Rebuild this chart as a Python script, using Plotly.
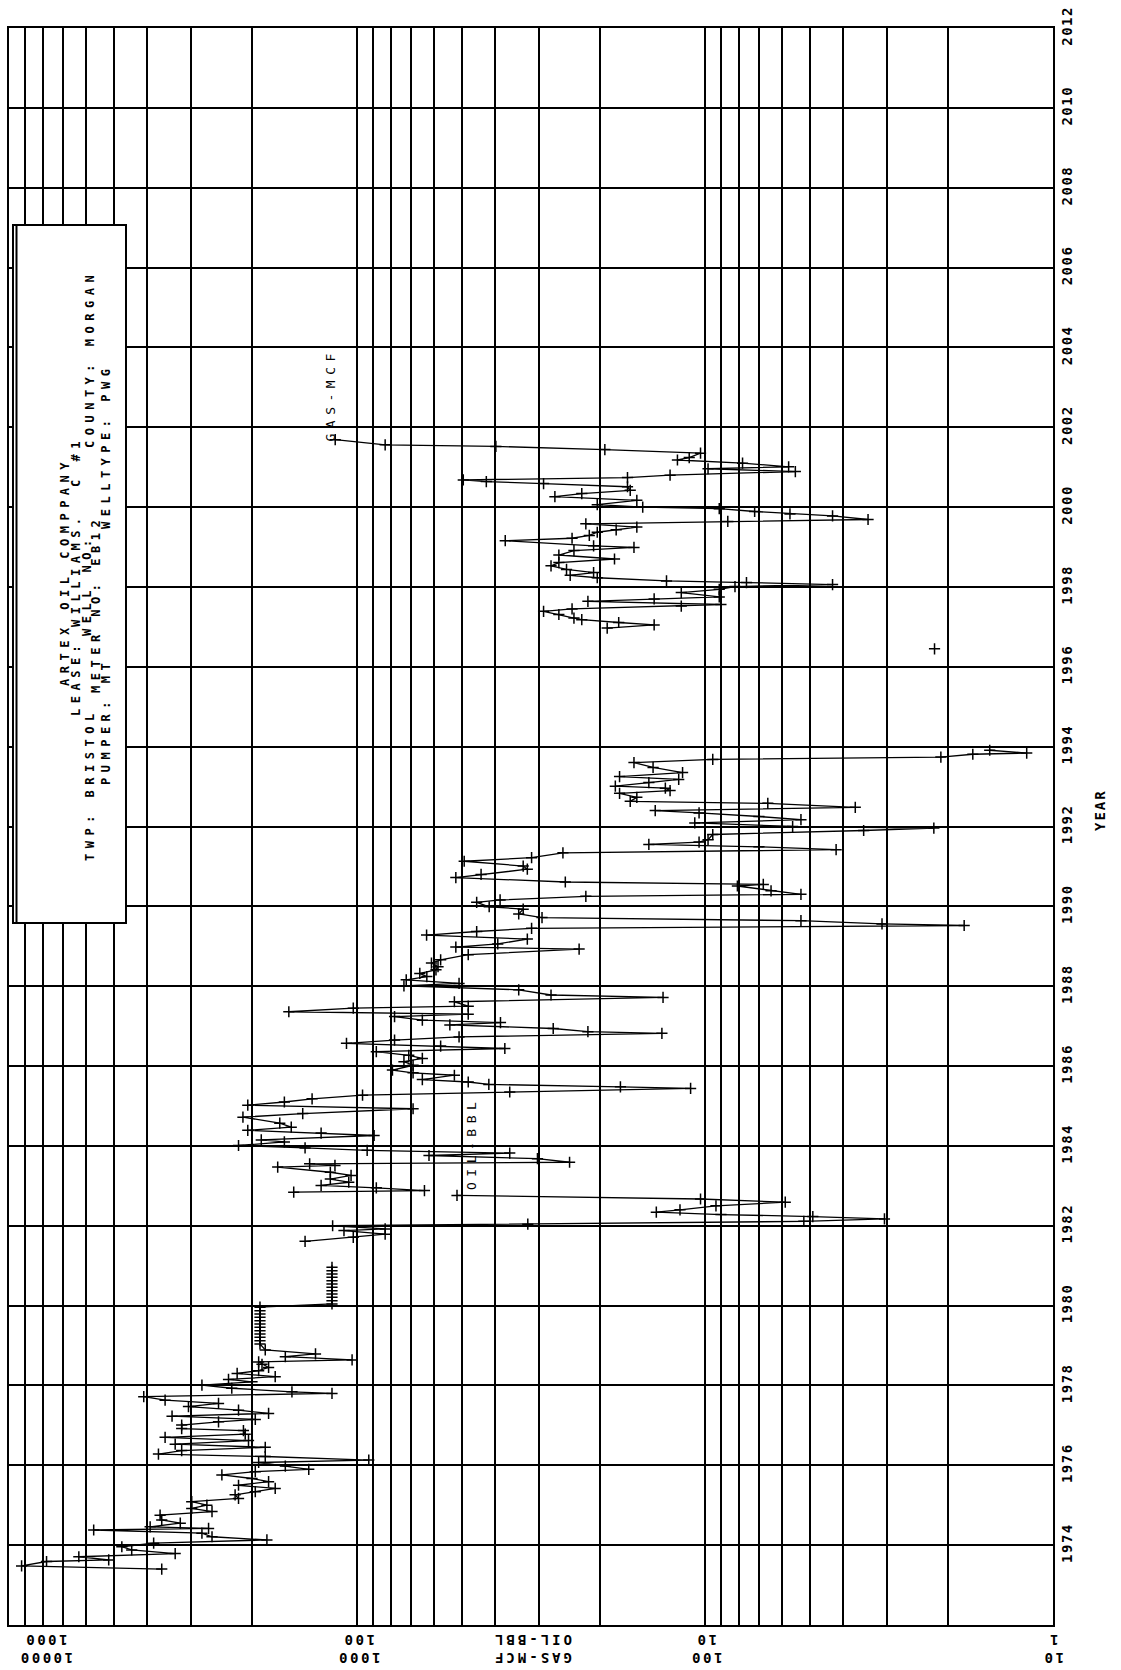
import plotly.graph_objects as go

# ---------------- data ----------------
oil_years = [1973.40, 1973.48, 1973.59, 1973.63, 1973.71, 1973.79, 1973.88, 1973.96,
             1974.05, 1974.13, 1974.21, 1974.30, 1974.38, 1974.42, 1974.46, 1974.55, 1974.63, 1974.75, 1974.84, 1974.92,
             1975.00, 1975.09, 1975.17, 1975.26, 1975.34, 1975.42, 1975.50, 1975.59, 1975.67, 1975.76, 1975.84, 1975.90, 1975.98,
             1976.07, 1976.13, 1976.22, 1976.28, 1976.37, 1976.45, 1976.53, 1976.62, 1976.70, 1976.78, 1976.87, 1976.92,
             1977.01, 1977.09, 1977.15, 1977.23, 1977.30, 1977.38, 1977.47, 1977.55, 1977.63, 1977.72, 1977.80, 1977.84, 1977.93,
             1978.01, 1978.09, 1978.15, 1978.22, 1978.30, 1978.37, 1978.45, 1978.53, 1978.59, 1978.64, 1978.72, 1978.79, 1978.89,
             1979.04, 1979.12, 1979.21, 1979.29, 1979.37, 1979.46, 1979.54, 1979.62, 1979.71, 1979.79, 1979.87, 1979.96,
             1980.04, 1980.12, 1980.21, 1980.29, 1980.37, 1980.46, 1980.54, 1980.62, 1980.71, 1980.79, 1980.87, 1980.96,
             1981.30,
             1981.61, 1981.71, 1981.79, 1981.88, 1981.92, 1982.00, 1982.04, 1982.11, 1982.17, 1982.23, 1982.28,
             1982.34, 1982.40, 1982.50, 1982.59, 1982.67, 1982.76]
oil_bbl = [3640, 9200, 7800, 5170, 6300, 3330, 4440, 4740,
           3840, 1815, 2610, 2790, 5710, 2670, 3930, 3220, 3640, 3680, 2610, 2985,
           2700, 2985, 2190, 2240, 1960, 1718, 2190, 1795, 2003, 2445, 1960, 1376, 1607,
           1917, 925, 1835, 3720, 3190, 1835, 3330, 2050, 3560, 2095, 2120, 3190,
           3190, 2500, 1960, 3400, 1795, 2190, 3050, 2500, 3560, 4100, 1180, 1538, 2290,
           2790, 2003, 2340, 1718, 2210, 1917, 1795, 1875, 1917, 1033, 1607, 1316, 1835,
           1900, 1900, 1900, 1900, 1900, 1900, 1900, 1900, 1900, 1900, 1900, 1900,
           1180, 1180, 1180, 1180, 1180, 1180, 1180, 1180, 1180, 1180, 1180, 1180,
           None,
           1410, 1025, 830, 1090, 830, 1175, 323, 52, 30.5, 49, 90,
           138, 118, 93, 58.8, 103, 516]

gas_years = [1982.84, 1982.88, 1982.95, 1983.01, 1983.09, 1983.17, 1983.26, 1983.34, 1983.47, 1983.51, 1983.55,
             1983.59, 1983.68, 1983.76, 1983.82, 1983.89, 1983.95,
             1984.01, 1984.10, 1984.15, 1984.26, 1984.32, 1984.39, 1984.47, 1984.57, 1984.72, 1984.81, 1984.93,
             1985.02, 1985.10, 1985.18, 1985.27, 1985.35, 1985.44, 1985.48, 1985.54, 1985.60, 1985.66, 1985.77, 1985.83, 1985.90,
             1986.02, 1986.11, 1986.19, 1986.27, 1986.36, 1986.44, 1986.50, 1986.57, 1986.65, 1986.73, 1986.82, 1986.86, 1986.94,
             1987.03, 1987.09, 1987.15, 1987.24, 1987.30, 1987.36, 1987.45, 1987.50, 1987.61, 1987.72, 1987.78, 1987.91,
             1988.01, 1988.07, 1988.16, 1988.24, 1988.32, 1988.41, 1988.49, 1988.58, 1988.66, 1988.79, 1988.93, 1988.98,
             1989.06, 1989.18, 1989.28, 1989.37, 1989.45, 1989.52, 1989.56, 1989.64, 1989.72, 1989.81, 1989.93, 1989.99,
             1990.10, 1990.16, 1990.25, 1990.30, 1990.39, 1990.51, 1990.55, 1990.61, 1990.72, 1990.80, 1990.93,
             1991.01, 1991.13, 1991.22, 1991.34, 1991.42, 1991.49, 1991.55, 1991.61, 1991.67, 1991.80, 1991.90, 1991.96,
             1992.00, 1992.09, 1992.17, 1992.25, 1992.34, 1992.40, 1992.48, 1992.58, 1992.63, 1992.73, 1992.83, 1992.90, 1992.96,
             1993.01, 1993.10, 1993.18, 1993.25, 1993.35, 1993.48, 1993.60, 1993.68, 1993.74, 1993.81, 1993.84, 1993.91,
             1995.20,
             1996.45,
             1996.70,
             1996.97, 1997.05, 1997.11, 1997.18, 1997.22, 1997.31, 1997.39, 1997.45, 1997.52, 1997.56, 1997.64, 1997.70,
             1997.75, 1997.86, 1997.94,
             1998.01, 1998.06, 1998.11, 1998.15, 1998.23, 1998.29, 1998.36, 1998.44, 1998.53, 1998.61, 1998.70, 1998.80,
             1998.91, 1998.99,
             1999.03, 1999.16, 1999.22, 1999.29, 1999.37, 1999.43, 1999.50, 1999.58, 1999.64, 1999.69, 1999.78, 1999.83,
             1999.89, 1999.96,
             2000.00, 2000.06, 2000.17, 2000.26, 2000.34, 2000.42, 2000.51, 2000.59, 2000.64, 2000.68, 2000.74, 2000.80,
             2000.89, 2000.96,
             2001.01, 2001.10, 2001.18, 2001.24, 2001.35, 2001.44, 2001.52, 2001.56, 2001.69]
gas_mcf = [1520, 640, 880, 1268, 1056, 1193, 1040, 1193, 1690, 1157, 1368,
           245, 303, 621, 364, 935, 1410,
           2190, 1617, 1884, 893, 1268, 2060, 1545, 1667, 2127, 1432, 690,
           2060, 1617, 1346, 964, 364, 110, 175, 418, 479, 649, 525, 690, 791,
           690, 733, 649, 710, 880, 376, 575, 1072, 780, 509, 133, 217, 273,
           541, 387, 649, 780, 479, 1570, 1025, 479, 525, 132, 277, 343,
           733, 509, 722, 630, 660, 593, 585, 611, 575, 479, 230, 520,
           394, 324, 631, 453, 315, 18, 31, 53, 294, 343, 333, 417,
           453, 388, 220, 53, 64.6, 80.7, 68, 252, 520, 440, 324,
           333, 492, 315, 256, 42, 70, 145, 104, 98, 95, 35, 22,
           56, 107, 53, 70, 104, 139, 37, 66, 164, 157, 176, 126, 130,
           181, 145, 119, 176, 116, 141, 160, 95, 21, 17, 11.9, 15.2,
           None,
           21.9,
           None,
           191, 140, 177, 226, 238, 263, 291, 241, 117, 90, 217, 140,
           91, 117, 91,
           82, 43, 76, 129, 204, 244, 209, 250, 277, 263, 182, 263,
           238, 160,
           209, 375, 241, 215, 204, 180, 157, 220, 86, 34, 43, 57,
           72, 91,
           151, 204, 157, 270, 226, 164, 167, 291, 425, 495, 167, 126,
           55, 98,
           57.5, 78, 120, 111, 103, 194, 399, 830, 1155]

year_ticks = list(range(1974, 2013, 2))
year_labels = [str(y) for y in year_ticks]
value_ticks = [10000, 1000, 100, 10]
value_labels = ["10000", "1000", "100", "10"]
value_labels_echo = ["1000", "100", "10", "1"]
grid_values = [m * d for d in (10, 100, 1000) for m in range(1, 10)] + [10000]

info_lines = ["ARTEX OIL COMPPANY", "LEASE: WILLIAMS.  C #1", "WELL NO:", "COUNTY: MORGAN",
              "TWP: BRISTOL", "METER NO: EB12", "PUMPER: MT", "WELLTYPE: PWG"]

# ---------------- layout geometry (page pixels) ----------------
W, H = 1121, 1670
L, R, T, B = 9, 1053, 28, 1625  # plot area edges in page pixels


def px(xp):
    return (xp - L) / (R - L)


def py(yp):
    return (B - yp) / (B - T)


def sp(text, s):
    return "<span style='letter-spacing:%.1fpx'>%s</span>" % (s, text)


MONO = "DejaVu Sans Mono"

fig = go.Figure()
mk = dict(symbol="cross-thin", size=8, line=dict(color="black", width=1.5), color="black")
fig.add_trace(go.Scatter(x=oil_bbl, y=oil_years, mode="lines+markers", name="OIL-BBL",
                         line=dict(color="black", width=1.3), marker=mk, connectgaps=False))
fig.add_trace(go.Scatter(x=gas_mcf, y=gas_years, mode="lines+markers", name="GAS-MCF",
                         line=dict(color="black", width=1.3), marker=mk, connectgaps=False))

fig.update_layout(
    width=W, height=H,
    margin=dict(l=L, r=W - R, t=T, b=H - B, pad=0),
    paper_bgcolor="white", plot_bgcolor="white",
    showlegend=False,
    xaxis=dict(type="log", range=[4, 1], autorange=False,
               tickmode="array", tickvals=grid_values, showticklabels=False, ticks="",
               showgrid=True, gridcolor="black", gridwidth=2,
               showline=True, linecolor="black", linewidth=2, mirror=True,
               zeroline=False, automargin=False),
    yaxis=dict(range=[1972, 2012], autorange=False, side="right",
               tickmode="array", tickvals=year_ticks,
               ticktext=[sp(t, 1.5) for t in year_labels],
               tickangle=-90, ticks="", ticklabeloverflow="allow",
               tickfont=dict(family=MONO, size=14, color="black", weight="bold"),
               showgrid=True, gridcolor="black", gridwidth=2,
               showline=True, linecolor="black", linewidth=2, mirror=True,
               zeroline=False, automargin=False),
)

# info box
fig.add_shape(type="rect", xref="paper", yref="paper",
              x0=px(13), x1=px(126), y0=py(923), y1=py(225),
              fillcolor="white", line=dict(color="black", width=2), layer="above")
fig.add_shape(type="line", xref="paper", yref="paper",
              x0=px(16.5), x1=px(16.5), y0=py(923), y1=py(225),
              line=dict(color="black", width=2), layer="above")

box_pos = [(65, 572), (76, 576), (87, 585), (90, 359), (90, 785), (96, 604), (106, 722), (106, 447)]
box_font = dict(family=MONO, size=12, color="black", weight="bold")
for txt, (xp, yp) in zip(info_lines, box_pos):
    fig.add_annotation(xref="paper", yref="paper", x=px(xp), y=py(yp), text=sp(txt, 5.5),
                       textangle=-90, showarrow=False, font=box_font,
                       xanchor="center", yanchor="middle")

# series labels
lab_font = dict(family=MONO, size=13, color="black")
fig.add_annotation(xref="paper", yref="paper", x=px(329.5), y=py(395), text=sp("GAS-MCF", 5.5),
                   textangle=-90, showarrow=False, font=lab_font, xanchor="center", yanchor="middle")
fig.add_annotation(xref="paper", yref="paper", x=px(471), y=py(1144), text=sp("OIL-BBL", 5.5),
                   textangle=-90, showarrow=False, font=lab_font, xanchor="center", yanchor="middle")

# axis titles
fig.add_annotation(xref="paper", yref="paper", x=px(1100), y=py(810), text=sp("YEAR", 2),
                   textangle=-90, showarrow=False, xanchor="center", yanchor="middle",
                   font=dict(family=MONO, size=14, color="black", weight="bold"))
fig.add_annotation(xref="paper", yref="paper", x=px(532), y=py(1649),
                   text=sp("GAS-MCF", 3) + "<br>" + sp("OIL-BBL", 3),
                   textangle=180, showarrow=False, xanchor="center", yanchor="middle",
                   font=dict(family=MONO, size=14, color="black", weight="bold"))

# value axis tick labels (drawn upside down like the reference)
tick_x_px = {10000: 46, 1000: 358.2, 100: 705.7, 10: 1053}
for v, lab, echo in zip(value_ticks, value_labels, value_labels_echo):
    fig.add_annotation(xref="paper", yref="paper", x=px(tick_x_px[v]), y=py(1649),
                       text=sp(lab, 2.5) + "<br>" + sp(echo, 2.5),
                       textangle=180, showarrow=False, xanchor="center", yanchor="middle",
                       font=dict(family=MONO, size=14, color="black", weight="bold"))

# the page's default 8px body margin would push the figure off the viewport
fig.write_html("out.html", config={"displayModeBar": False},
               post_script="document.body.style.margin='0';")
